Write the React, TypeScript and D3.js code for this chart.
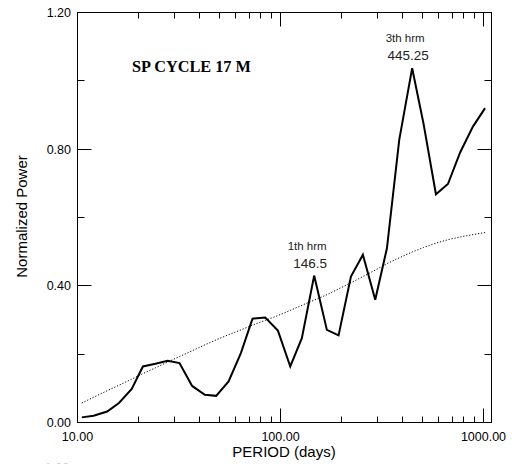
import React, { useEffect, useRef } from 'react'
import * as d3 from 'd3'

// period (days) of each spectrum point
const periods = [10.5, 12.0, 14.0, 16.0, 18.5, 21.0, 24.2, 27.8, 31.8, 36.7, 42.4, 48.2, 55.5, 63.8, 72.8, 84.1,
  97.1, 111.7, 127.4, 146.5, 169.2, 193.2, 222.3, 254.6, 292.9, 334.4, 384.5, 445.25, 506, 583, 668, 768, 887, 1018]
// normalized power (solid line)
const power = [0.015, 0.020, 0.032, 0.057, 0.098, 0.164, 0.172, 0.181, 0.174, 0.107, 0.081, 0.078, 0.120, 0.203,
  0.304, 0.307, 0.269, 0.164, 0.247, 0.430, 0.271, 0.255, 0.427, 0.491, 0.359, 0.510, 0.827, 1.037, 0.876, 0.668,
  0.698, 0.791, 0.866, 0.920]
// red-noise / significance trend (dotted line)
const trend = [0.057, 0.074, 0.093, 0.109, 0.127, 0.143, 0.160, 0.177, 0.193, 0.210, 0.227, 0.242, 0.257, 0.271,
  0.285, 0.299, 0.313, 0.328, 0.343, 0.358, 0.374, 0.391, 0.409, 0.427, 0.446, 0.465, 0.482, 0.499, 0.512, 0.525,
  0.535, 0.543, 0.550, 0.556]

const yMajor = [0, 0.4, 0.8, 1.2]
const yMinor = [0.2, 0.6, 1.0]
const xMajor = [10, 100, 1000]
const xMinor = [20, 30, 40, 50, 60, 70, 80, 90, 200, 300, 400, 500, 600, 700, 800, 900]

const notes = [
  { period: 146.5, label: '1th hrm', value: '146.5' },
  { period: 445.25, label: '3th hrm', value: '445.25' },
]

const W = 512
const H = 464

export default function App() {
  const ref = useRef<SVGSVGElement>(null)

  useEffect(() => {
    const svg = d3.select(ref.current)
    svg.selectAll('*').remove()

    /* scales */
    const x = d3.scaleLog().domain([10, 1095]).range([77.5, 491.5])
    const y = d3.scaleLinear().domain([0, 1.2]).range([422.5, 12.5])
    const [x0, x1] = x.range()
    const [y0, y1] = y.range()

    const sans = '"Liberation Sans", Arial, sans-serif'

    /* frame */
    svg.append('rect')
      .attr('x', x0).attr('y', y1)
      .attr('width', x1 - x0).attr('height', y0 - y1)
      .attr('fill', 'none').attr('stroke', '#000').attr('stroke-width', 1)

    const ticks = svg.append('g').attr('stroke', '#000').attr('stroke-width', 1)

    /* y ticks, both sides, pointing inward */
    const yt = [...yMajor.map(v => ({ v, len: 14 })), ...yMinor.map(v => ({ v, len: 7 }))]
    yt.forEach(t => {
      const py = Math.floor(y(t.v)) + 0.5
      ticks.append('line').attr('x1', x0).attr('x2', x0 + t.len).attr('y1', py).attr('y2', py)
      ticks.append('line').attr('x1', x1).attr('x2', x1 - t.len).attr('y1', py).attr('y2', py)
    })

    /* x ticks, top and bottom, pointing inward */
    const xt = [...xMajor.map(v => ({ v, len: 14 })), ...xMinor.map(v => ({ v, len: 6 }))]
    xt.forEach(t => {
      const px = Math.floor(x(t.v)) + 0.5
      ticks.append('line').attr('x1', px).attr('x2', px).attr('y1', y0).attr('y2', y0 - t.len)
      ticks.append('line').attr('x1', px).attr('x2', px).attr('y1', y1).attr('y2', y1 + t.len)
    })

    /* tick labels */
    svg.append('g').selectAll('text').data(yMajor).enter().append('text')
      .attr('x', 71).attr('y', d => y(d))
      .attr('dy', '0.35em')
      .attr('text-anchor', 'end')
      .attr('font-family', sans).attr('font-size', 12.5)
      .text(d => d.toFixed(2))

    svg.append('g').selectAll('text').data(xMajor).enter().append('text')
      .attr('x', d => x(d)).attr('y', 441)
      .attr('text-anchor', 'middle')
      .attr('font-family', sans).attr('font-size', 12.5)
      .text(d => d.toFixed(2))

    // faint label peeking in at the bottom edge (cut off in the original too)
    svg.append('text')
      .attr('x', 57).attr('y', 472)
      .attr('text-anchor', 'middle')
      .attr('font-family', sans).attr('font-size', 12.5)
      .attr('fill', '#d0d0d0')
      .text('1.00')

    /* axis titles */
    svg.append('text')
      .attr('x', 284).attr('y', 457)
      .attr('text-anchor', 'middle')
      .attr('font-family', sans).attr('font-size', 15)
      .text('PERIOD (days)')

    svg.append('text')
      .attr('transform', 'translate(26.5,216.5) rotate(-90)')
      .attr('text-anchor', 'middle')
      .attr('font-family', sans).attr('font-size', 15)
      .text('Normalized Power')

    /* chart title */
    svg.append('text')
      .attr('x', 132).attr('y', 71.5)
      .attr('font-family', '"Liberation Serif", "Times New Roman", serif')
      .attr('font-weight', 'bold').attr('font-size', 16.3)
      .text('SP CYCLE 17 M')

    /* lines */
    const idx = d3.range(periods.length)
    const trendLine = d3.line<number>().x(i => x(periods[i])).y(i => y(trend[i]))
    const powerLine = d3.line<number>().x(i => x(periods[i])).y(i => y(power[i]))

    svg.append('path')
      .attr('d', trendLine(idx))
      .attr('fill', 'none').attr('stroke', '#000')
      .attr('stroke-width', 1).attr('stroke-dasharray', '1.2 1.8')

    svg.append('path')
      .attr('d', powerLine(idx))
      .attr('fill', 'none').attr('stroke', '#000')
      .attr('stroke-width', 2).attr('stroke-linejoin', 'miter')

    /* harmonic annotations */
    notes.forEach(n => {
      const i = periods.indexOf(n.period)
      const px = x(n.period)
      const py = y(power[i])
      svg.append('text')
        .attr('x', px - 7).attr('y', py - 26)
        .attr('text-anchor', 'middle')
        .attr('font-family', sans).attr('font-size', 11.5).attr('fill', '#222')
        .text(n.label)
      svg.append('text')
        .attr('x', px - 4).attr('y', py - 8)
        .attr('text-anchor', 'middle')
        .attr('font-family', sans).attr('font-size', 13.5).attr('fill', '#222')
        .text(n.value)
    })
  }, [])

  return (
    <div style={{ position: 'absolute', left: 0, top: 0 }}>
      <svg ref={ref} width={W} height={H} style={{ display: 'block', background: '#fff' }} />
    </div>
  )
}
